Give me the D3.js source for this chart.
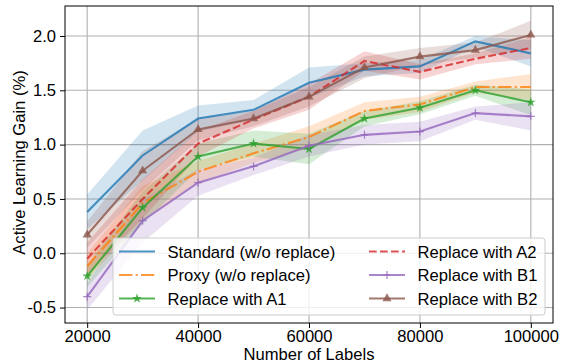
<!DOCTYPE html>
<html>
<head>
<meta charset="utf-8">
<script src="https://cdn.jsdelivr.net/npm/d3@7"></script>
<style>
  body { margin: 0; background: #fff; }
  svg { font-family: "Liberation Sans", Arial, sans-serif; }
</style>
</head>
<body>
<script>
window.document.addEventListener('DOMContentLoaded', init, false);

var width = 563;
var height = 362;
var margin = {left: 65, right: 10, top: 6, bottom: 39};

var labels = [20000, 30000, 40000, 50000, 60000, 70000, 80000, 90000, 100000];
var xTicks = [20000, 40000, 60000, 80000, 100000];
var yTicks = [-0.5, 0.0, 0.5, 1.0, 1.5, 2.0];
var yTickLabels = ['-0.5', '0.0', '0.5', '1.0', '1.5', '2.0'];

var seriesNames = ['Standard (w/o replace)', 'Proxy (w/o replace)', 'Replace with A1',
                   'Replace with A2', 'Replace with B1', 'Replace with B2'];

var standard = [0.38, 0.90, 1.24, 1.32, 1.57, 1.69, 1.72, 1.95, 1.84];
var proxy    = [-0.12, 0.46, 0.75, 0.92, 1.07, 1.31, 1.37, 1.53, 1.53];
var replA1   = [-0.21, 0.42, 0.89, 1.01, 0.96, 1.24, 1.34, 1.50, 1.39];
var replA2   = [-0.05, 0.50, 1.01, 1.23, 1.44, 1.77, 1.67, 1.79, 1.89];
var replB1   = [-0.40, 0.30, 0.65, 0.80, 0.99, 1.09, 1.12, 1.29, 1.26];
var replB2   = [0.17, 0.76, 1.14, 1.24, 1.44, 1.71, 1.81, 1.87, 2.01];

// half-widths of the shaded bands
var standardSpread = [0.16, 0.23, 0.12, 0.09, 0.14, 0.06, 0.06, 0.05, 0.12];
var proxySpread    = [0.12, 0.16, 0.10, 0.09, 0.10, 0.08, 0.07, 0.05, 0.12];
var replA1Spread   = [0.10, 0.15, 0.12, 0.12, 0.14, 0.07, 0.06, 0.05, 0.12];
var replA2Spread   = [0.15, 0.18, 0.12, 0.08, 0.12, 0.09, 0.07, 0.05, 0.10];
var replB1Spread   = [0.12, 0.20, 0.12, 0.08, 0.10, 0.09, 0.09, 0.06, 0.13];
var replB2Spread   = [0.12, 0.18, 0.10, 0.07, 0.09, 0.10, 0.08, 0.07, 0.13];

var colors = ['#1f77b4', '#ff7f0e', '#2ca02c', '#d62728', '#9467bd', '#8c564b'];
var dashes = [null, '13.3,3.3,2.1,3.3', null, '7.7,3.3', null, null];
var markers = [null, null, 'star', null, 'plus', 'triangle'];

var svg, x, y;

function init() {
    svg = d3.select('body').append('svg')
        .attr('width', width)
        .attr('height', height);

    x = d3.scaleLinear().domain([16000, 104000])
        .range([margin.left, width - margin.right]);
    y = d3.scaleLinear().domain([-0.642, 2.276])
        .range([height - margin.bottom, margin.top]);

    drawGrid();

    var values = [standard, proxy, replA1, replA2, replB1, replB2];
    var spreads = [standardSpread, proxySpread, replA1Spread, replA2Spread, replB1Spread, replB2Spread];

    // bands first, then lines
    values.forEach(function(v, i) {
        var area = d3.area()
            .x(function(d, j) { return x(labels[j]); })
            .y0(function(d, j) { return y(d - spreads[i][j]); })
            .y1(function(d, j) { return y(d + spreads[i][j]); });
        svg.append('path').attr('d', area(v))
            .attr('fill', colors[i]).attr('fill-opacity', 0.2);
    });

    values.forEach(function(v, i) {
        var line = d3.line()
            .x(function(d, j) { return x(labels[j]); })
            .y(function(d) { return y(d); });
        svg.append('path').attr('d', line(v))
            .attr('fill', 'none')
            .attr('stroke', colors[i])
            .attr('stroke-opacity', 0.8)
            .attr('stroke-width', 2.1)
            .attr('stroke-dasharray', dashes[i]);
        if (markers[i]) {
            v.forEach(function(d, j) {
                drawMarker(markers[i], x(labels[j]), y(d), colors[i]);
            });
        }
    });

    drawAxes();
    drawLegend();
}

function drawMarker(type, cx, cy, color) {
    var g = svg.append('g').attr('transform', 'translate(' + cx + ',' + cy + ')')
        .attr('opacity', 0.8);
    if (type === 'star') {
        g.append('path').attr('d', d3.symbol().type(d3.symbolStar).size(30)())
            .attr('fill', color);
    } else if (type === 'triangle') {
        g.append('path').attr('d', d3.symbol().type(d3.symbolTriangle).size(36)())
            .attr('fill', color);
    } else if (type === 'plus') {
        g.append('path').attr('d', 'M-4,0H4M0,-4V4')
            .attr('stroke', color).attr('stroke-width', 1.2);
    }
}

function drawGrid() {
    var g = svg.append('g');
    g.selectAll('.vg').data(xTicks).enter().append('line')
        .attr('x1', function(d) { return x(d); })
        .attr('x2', function(d) { return x(d); })
        .attr('y1', margin.top).attr('y2', height - margin.bottom)
        .attr('stroke', '#b0b0b0').attr('stroke-width', 1.1);
    g.selectAll('.hg').data(yTicks).enter().append('line')
        .attr('y1', function(d) { return y(d); })
        .attr('y2', function(d) { return y(d); })
        .attr('x1', margin.left).attr('x2', width - margin.right)
        .attr('stroke', '#b0b0b0').attr('stroke-width', 1.1);
}

function drawAxes() {
    var xAxis = d3.axisBottom(x).tickValues(xTicks).tickSize(5).tickPadding(2.5)
        .tickFormat(d3.format('d'));
    var gx = svg.append('g')
        .attr('transform', 'translate(0,' + (height - margin.bottom) + ')')
        .call(xAxis);
    var yAxis = d3.axisLeft(y).tickValues(yTicks).tickSize(5).tickPadding(4)
        .tickFormat(function(d, i) { return yTickLabels[i]; });
    var gy = svg.append('g')
        .attr('transform', 'translate(' + margin.left + ',0)')
        .call(yAxis);
    [gx, gy].forEach(function(g) {
        g.select('.domain').remove();
        g.selectAll('text').attr('font-size', 16.6).attr('fill', '#000')
            .attr('font-family', '"Liberation Sans", Arial, sans-serif');
        g.selectAll('line').attr('stroke', '#000').attr('stroke-width', 1);
    });

    svg.append('rect')
        .attr('x', margin.left).attr('y', margin.top)
        .attr('width', width - margin.right - margin.left)
        .attr('height', height - margin.bottom - margin.top)
        .attr('fill', 'none').attr('stroke', '#000').attr('stroke-width', 1);

    svg.append('text')
        .attr('x', (margin.left + width - margin.right) / 2)
        .attr('y', 359.5)
        .attr('text-anchor', 'middle')
        .attr('font-size', 16.6)
        .text('Number of Labels');

    svg.append('text')
        .attr('transform', 'translate(24.5,' + ((margin.top + height - margin.bottom) / 2 - 2) + ') rotate(-90)')
        .attr('text-anchor', 'middle')
        .attr('font-size', 16.6)
        .text('Active Learning Gain (%)');
}

function drawLegend() {
    var lg = svg.append('g');
    lg.append('rect')
        .attr('x', 113).attr('y', 238)
        .attr('width', 432).attr('height', 77)
        .attr('rx', 3)
        .attr('fill', '#fff').attr('fill-opacity', 0.8)
        .attr('stroke', '#cccccc').attr('stroke-width', 1);

    var cols = [119, 369];
    var rows = [251.5, 275, 298.5];
    seriesNames.forEach(function(name, i) {
        var cx = cols[Math.floor(i / 3)];
        var cy = rows[i % 3];
        lg.append('line')
            .attr('x1', cx).attr('x2', cx + 36)
            .attr('y1', cy).attr('y2', cy)
            .attr('stroke', colors[i]).attr('stroke-opacity', 0.8)
            .attr('stroke-width', 2.1)
            .attr('stroke-dasharray', dashes[i]);
        if (markers[i]) drawMarker(markers[i], cx + 18, cy, colors[i]);
        lg.append('text')
            .attr('x', cx + 48.5).attr('y', cy + 6)
            .attr('font-size', 16.6)
            .text(name);
    });
}
</script>
</body>
</html>
